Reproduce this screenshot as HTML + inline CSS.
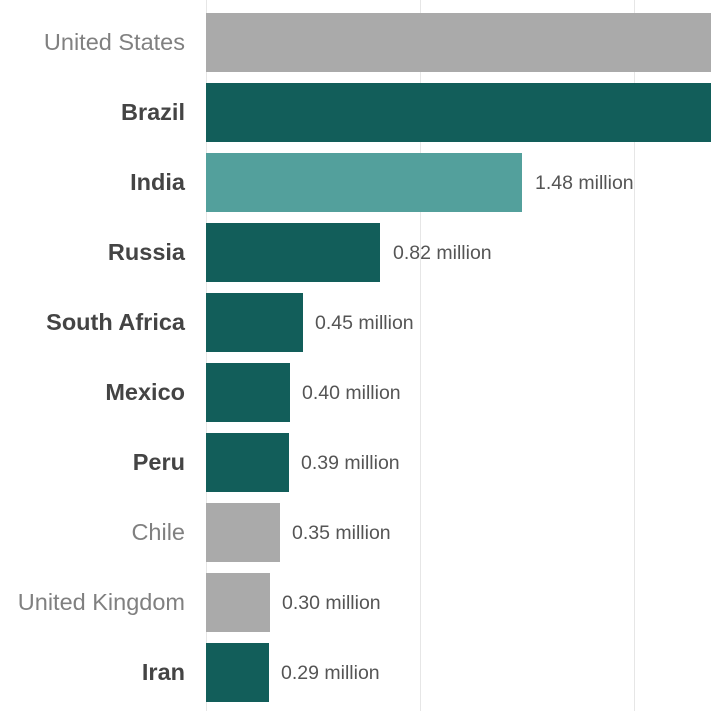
<!DOCTYPE html>
<html><head><style>
body{margin:0;background:#fff}
svg{display:block}
</style></head><body>
<svg width="711" height="711" xmlns="http://www.w3.org/2000/svg" font-family="Liberation Sans, sans-serif">
<line x1="206.5" y1="0" x2="206.5" y2="711" stroke="#e6e6e6"/>
<line x1="420.5" y1="0" x2="420.5" y2="711" stroke="#e6e6e6"/>
<line x1="634.5" y1="0" x2="634.5" y2="711" stroke="#e6e6e6"/>
<g>
<rect x="206" y="13" width="505" height="59" fill="#aaaaaa"/>
<rect x="206" y="83" width="505" height="59" fill="#125e5a"/>
<rect x="206" y="153" width="316" height="59" fill="#53a09c"/>
<rect x="206" y="223" width="174" height="59" fill="#125e5a"/>
<rect x="206" y="293" width="97" height="59" fill="#125e5a"/>
<rect x="206" y="363" width="84" height="59" fill="#125e5a"/>
<rect x="206" y="433" width="83" height="59" fill="#125e5a"/>
<rect x="206" y="503" width="74" height="59" fill="#aaaaaa"/>
<rect x="206" y="573" width="64" height="59" fill="#aaaaaa"/>
<rect x="206" y="643" width="63" height="59" fill="#125e5a"/>
</g>
<g font-size="23.5" text-anchor="end">
<text x="185" y="50" fill="#808080">United States</text>
<text x="185" y="120" fill="#444" font-weight="bold">Brazil</text>
<text x="185" y="190" fill="#444" font-weight="bold">India</text>
<text x="185" y="260" fill="#444" font-weight="bold">Russia</text>
<text x="185" y="330" fill="#444" font-weight="bold">South Africa</text>
<text x="185" y="400" fill="#444" font-weight="bold">Mexico</text>
<text x="185" y="470" fill="#444" font-weight="bold">Peru</text>
<text x="185" y="540" fill="#808080">Chile</text>
<text x="185" y="610" fill="#808080">United Kingdom</text>
<text x="185" y="680" fill="#444" font-weight="bold">Iran</text>
</g>
<g font-size="19.5" fill="#555">
<text x="535" y="189">1.48 million</text>
<text x="393" y="259">0.82 million</text>
<text x="315" y="329">0.45 million</text>
<text x="302" y="399">0.40 million</text>
<text x="301" y="469">0.39 million</text>
<text x="292" y="539">0.35 million</text>
<text x="282" y="609">0.30 million</text>
<text x="281" y="679">0.29 million</text>
</g>
</svg>
</body></html>
